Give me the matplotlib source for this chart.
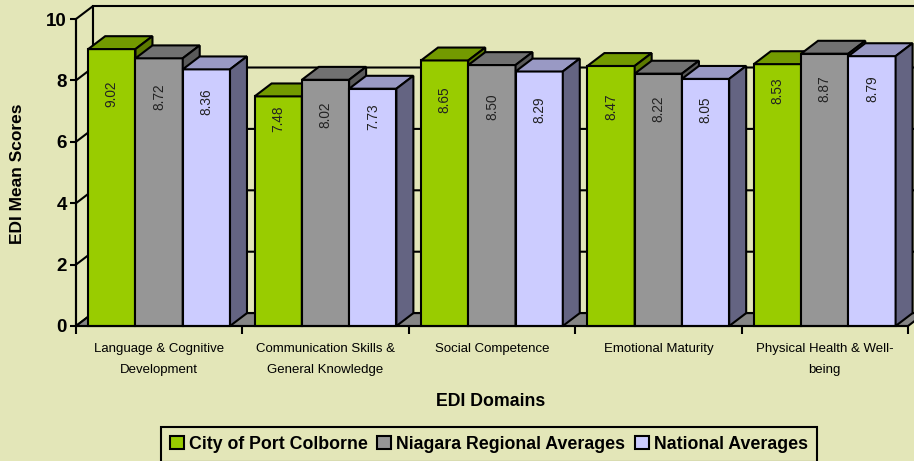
import matplotlib
matplotlib.use('Agg')
import matplotlib.pyplot as plt
from matplotlib.patches import Polygon, Patch

plt.rcParams['font.family'] = ['Liberation Sans', 'DejaVu Sans']

domains = ["Language & Cognitive\nDevelopment",
           "Communication Skills &\nGeneral Knowledge",
           "Social Competence",
           "Emotional Maturity",
           "Physical Health & Well-\nbeing"]
series = ["City of Port Colborne", "Niagara Regional Averages", "National Averages"]
port_colborne = [9.02, 7.48, 8.65, 8.47, 8.53]
niagara = [8.72, 8.02, 8.50, 8.22, 8.87]
national = [8.36, 7.73, 8.29, 8.05, 8.79]
y_ticks = [0, 2, 4, 6, 8, 10]

# where the value labels sit on each bar (score units) - layout only
label_y = [[7.56, 6.74, 7.36, 7.13, 7.65],
           [7.46, 6.87, 7.13, 7.07, 7.72],
           [7.30, 6.81, 7.04, 7.05, 7.72]]

# front, top, side shading per series
colors = [('#99CC00', '#739A00', '#5C7A00'),
          ('#969696', '#717171', '#5A5A5A'),
          ('#CCCCFF', '#9999C4', '#646482')]
bg = '#E3E6B8'
floor_color = '#858585'

values = [port_colborne, niagara, national]
dx, dy = 0.102, 0.42      # 3d depth offset
w = 0.284                 # bar width in category units
start = 0.0735
lw = 1.5

fig = plt.figure(figsize=(9.14, 4.61), dpi=100, facecolor=bg)
ax = fig.add_axes([76/914, 135/461, 832/914, 307/461])
ax.set_facecolor('none')
ax.set_xlim(0, len(domains))
ax.set_ylim(0, 10)
n = len(domains)

# walls
ax.add_patch(Polygon([(dx, dy), (n + dx, dy), (n + dx, 10 + dy), (dx, 10 + dy)],
                     closed=True, fc=bg, ec='black', lw=lw, clip_on=False, zorder=1))
ax.add_patch(Polygon([(0, 0), (dx, dy), (dx, 10 + dy), (0, 10)],
                     closed=True, fc=bg, ec='black', lw=lw, clip_on=False, zorder=1))
for t in y_ticks[1:-1]:
    ax.plot([0, dx, n + dx], [t, t + dy, t + dy], color='black', lw=lw,
            clip_on=False, zorder=1.5, solid_capstyle='butt')
ax.add_patch(Polygon([(0, 0), (n, 0), (n + dx, dy), (dx, dy)],
                     closed=True, fc=floor_color, ec='black', lw=lw, clip_on=False, zorder=2))

z = 3
for i in range(n):
    for j in range(len(series)):
        v = values[j][i]
        front, top, side = colors[j]
        x0 = i + start + j * w
        x1 = x0 + w
        ax.bar(x0, v, width=w, align='edge', color=front, edgecolor='black',
               linewidth=lw, zorder=z, clip_on=False)
        ax.add_patch(Polygon([(x0, v), (x1, v), (x1 + dx, v + dy), (x0 + dx, v + dy)],
                             closed=True, fc=top, ec='black', lw=lw, clip_on=False, zorder=z))
        ax.add_patch(Polygon([(x1, 0), (x1 + dx, dy), (x1 + dx, v + dy), (x1, v)],
                             closed=True, fc=side, ec='black', lw=lw, clip_on=False, zorder=z))
        ax.text(x0 + w / 2, label_y[j][i], f"{v:.2f}", rotation=90, ha='center',
                va='center', fontsize=9.8, color='#222222', zorder=z + 0.5)
        z += 1

for s in ['top', 'right']:
    ax.spines[s].set_visible(False)
for s in ['left', 'bottom']:
    ax.spines[s].set_linewidth(lw)
    ax.spines[s].set_zorder(z + 1)

ax.set_yticks(y_ticks)
ax.set_yticklabels([str(t) for t in y_ticks], fontweight='bold')
ax.tick_params(axis='y', direction='out', length=4.5, width=lw, pad=2, labelsize=13.5)
ax.set_xticks(range(n + 1))
ax.set_xticklabels([])
ax.set_xticks([i + 0.5 for i in range(n)], minor=True)
ax.set_xticklabels(domains, minor=True, fontsize=9.5, linespacing=2.05)
ax.tick_params(axis='x', which='major', direction='out', length=5.5, width=lw)
ax.tick_params(axis='x', which='minor', length=0, pad=12)

fig.text(18/914, 1 - 174/461, "EDI Mean Scores", rotation=90, ha='center', va='center',
         fontsize=12.5, fontweight='bold')
fig.text(491/914, 1 - 401/461, "EDI Domains", ha='center', va='center',
         fontsize=12.8, fontweight='bold')

handles = [Patch(facecolor=c[0], edgecolor='black', linewidth=lw) for c in colors]
leg = fig.legend(handles, series, loc='upper center', bbox_to_anchor=(489/914, 1 - 427/461),
                 ncol=3, frameon=True, fancybox=False, edgecolor='black', facecolor=bg,
                 framealpha=1, prop={'weight': 'bold', 'size': 12.8}, handlelength=0.79,
                 handleheight=0.73, handletextpad=0.28, columnspacing=0.56, borderpad=0.5,
                 borderaxespad=0)
leg.get_frame().set_linewidth(lw)

fig.savefig('out.png', dpi=100, facecolor=bg)
